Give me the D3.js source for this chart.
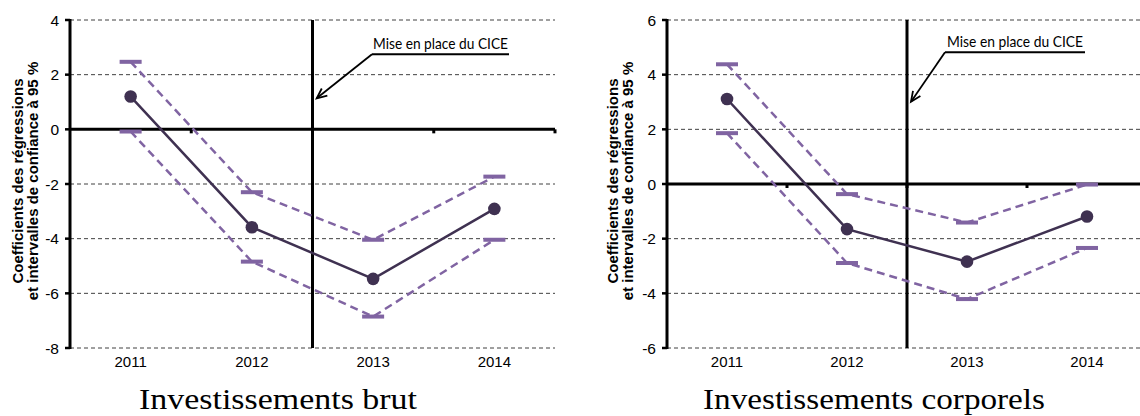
<!DOCTYPE html>
<html><head><meta charset="utf-8">
<script src="https://cdn.jsdelivr.net/npm/d3@7"></script>
<style>body{margin:0;background:#fff}svg{display:block}</style>
</head><body>
<svg id="chart" width="1140" height="416"></svg>
<script>
// ---- data ----
const years = ["2011", "2012", "2013", "2014"];
const brutCoef  = [1.20, -3.58, -5.47, -2.91];
const brutUpper = [2.47, -2.30, -4.04, -1.73];
const brutLower = [-0.08, -4.84, -6.85, -4.04];
const corpCoef  = [3.11, -1.65, -2.84, -1.19];
const corpUpper = [4.38, -0.37, -1.41, -0.02];
const corpLower = [1.86, -2.89, -4.21, -2.34];
const brutTicks = [4, 2, 0, -2, -4, -6, -8];
const corpTicks = [6, 4, 2, 0, -2, -4, -6];
const panelTitles = ["Investissements brut", "Investissements corporels"];
const yAxisTitle = ["Coefficients des régressions", "et intervalles de confiance à 95 %"];
const annotationText = "Mise en place du CICE";

// ---- layout ----
const svg = d3.select("#chart");
const panels = [
  { x0: 70, x1: 555, y0: 20, y1: 348, domain: [-8, 4], ticks: brutTicks,
    coef: brutCoef, upper: brutUpper, lower: brutLower, title: panelTitles[0],
    titleX: 278, titleLen: 278, axTitleX: 18,
    ann: { textX: 373, textY: 49, ulX0: 372, ulX1: 509, ulY: 54.3, tipX: 316.7, tipY: 98.3, len: 135 } },
  { x0: 667, x1: 1147, y0: 20, y1: 348, domain: [-6, 6], ticks: corpTicks,
    coef: corpCoef, upper: corpUpper, lower: corpLower, title: panelTitles[1],
    titleX: 874, titleLen: 342, axTitleX: 613,
    ann: { textX: 947, textY: 46.5, ulX0: 945, ulX1: 1085, ulY: 52.3, tipX: 911, tipY: 101.7, len: 136 } }
];

const coefColor = "#3f3151";
const ciColor = "#8064a2";
const sans = "'Liberation Sans', Arial, sans-serif";

panels.forEach(p => {
  const g = svg.append("g");
  const x = d3.scaleBand().domain(years).range([p.x0, p.x1]).paddingInner(0).paddingOuter(0);
  const y = d3.scaleLinear().domain(p.domain).range([p.y1, p.y0]);
  const bw = x.bandwidth();
  const cx = d => x(d) + bw / 2;

  // gridlines
  g.selectAll(".grid").data(p.ticks.filter(t => t !== 0)).join("line")
    .attr("x1", p.x0).attr("x2", p.x1)
    .attr("y1", d => y(d)).attr("y2", d => y(d))
    .attr("stroke", "#404040").attr("stroke-width", 1).attr("stroke-dasharray", "4,3");

  // y tick labels
  g.selectAll(".ylab").data(p.ticks).join("text")
    .attr("x", p.x0 - 11).attr("y", d => y(d))
    .attr("dy", "0.36em").attr("text-anchor", "end")
    .attr("font-family", sans).attr("font-size", 15.5).attr("fill", "#000")
    .text(d => d);
  // y ticks
  g.selectAll(".ytick").data(p.ticks).join("line")
    .attr("x1", p.x0 - 5).attr("x2", p.x0)
    .attr("y1", d => y(d)).attr("y2", d => y(d))
    .attr("stroke", "#000").attr("stroke-width", 2.5);

  // x axis at 0
  g.append("line").attr("x1", p.x0).attr("x2", p.x1).attr("y1", y(0)).attr("y2", y(0))
    .attr("stroke", "#000").attr("stroke-width", 3);
  // x ticks at band boundaries
  g.selectAll(".xtick").data(d3.range(1, years.length + 1)).join("line")
    .attr("x1", i => p.x0 + i * bw).attr("x2", i => p.x0 + i * bw)
    .attr("y1", y(0)).attr("y2", y(0) + 4)
    .attr("stroke", "#000").attr("stroke-width", 3);
  // y axis
  g.append("line").attr("x1", p.x0).attr("x2", p.x0).attr("y1", p.y0 - 1).attr("y2", p.y1 + 1)
    .attr("stroke", "#000").attr("stroke-width", 3);

  // x labels
  g.selectAll(".xlab").data(years).join("text")
    .attr("x", d => cx(d)).attr("y", 367)
    .attr("text-anchor", "middle")
    .attr("font-family", sans).attr("font-size", 15).attr("fill", "#000")
    .text(d => d);

  // CICE vertical line between 2012 and 2013
  const vx = x(years[2]);
  g.append("line").attr("x1", vx).attr("x2", vx).attr("y1", p.y0).attr("y2", p.y1)
    .attr("stroke", "#000").attr("stroke-width", 3);

  // CI lines
  const line = d3.line().x((d, i) => cx(years[i])).y(d => y(d));
  [p.upper, p.lower].forEach(arr => {
    g.append("path").attr("d", line(arr)).attr("fill", "none")
      .attr("stroke", ciColor).attr("stroke-width", 2.5).attr("stroke-dasharray", "8,5");
    g.selectAll(null).data(arr).join("rect")
      .attr("x", (d, i) => cx(years[i]) - 11).attr("y", d => y(d) - 2)
      .attr("width", 22).attr("height", 4).attr("fill", ciColor);
  });

  // coefficient line
  g.append("path").attr("d", line(p.coef)).attr("fill", "none")
    .attr("stroke", coefColor).attr("stroke-width", 2.5);
  g.selectAll(".pt").data(p.coef).join("circle")
    .attr("cx", (d, i) => cx(years[i])).attr("cy", d => y(d)).attr("r", 6.3)
    .attr("fill", coefColor);

  // annotation
  const a = p.ann;
  g.append("text").attr("x", a.textX).attr("y", a.textY)
    .attr("font-family", "Lato, 'Open Sans', sans-serif").attr("font-size", 15)
    .attr("textLength", a.len).attr("lengthAdjust", "spacingAndGlyphs")
    .attr("fill", "#000").text(annotationText);
  g.append("line").attr("x1", a.ulX0).attr("x2", a.ulX1).attr("y1", a.ulY).attr("y2", a.ulY)
    .attr("stroke", "#000").attr("stroke-width", 2);
  g.append("line").attr("x1", a.ulX0).attr("x2", a.tipX).attr("y1", a.ulY).attr("y2", a.tipY)
    .attr("stroke", "#000").attr("stroke-width", 1.8);
  const ang = Math.atan2(a.ulY - a.tipY, a.ulX0 - a.tipX);
  const headLen = 11, spread = 0.42;
  const hp = [ang - spread, ang + spread].map(t => [a.tipX + headLen * Math.cos(t), a.tipY + headLen * Math.sin(t)]);
  g.append("path")
    .attr("d", `M${hp[0][0]},${hp[0][1]}L${a.tipX},${a.tipY}L${hp[1][0]},${hp[1][1]}`)
    .attr("fill", "none").attr("stroke", "#000").attr("stroke-width", 1.8);

  // y axis title
  const midY = 181;
  yAxisTitle.forEach((t, i) => {
    g.append("text")
      .attr("transform", `translate(${p.axTitleX + i * 15},${midY}) rotate(-90)`)
      .attr("text-anchor", "middle").attr("dy", "0.36em")
      .attr("font-family", sans).attr("font-weight", "bold").attr("font-size", 15)
      .attr("fill", "#000").text(t);
  });

  // panel title
  g.append("text").attr("x", p.titleX).attr("y", 409)
    .attr("text-anchor", "middle")
    .attr("font-family", "'Liberation Serif', 'Times New Roman', serif").attr("font-size", 29)
    .attr("textLength", p.titleLen).attr("lengthAdjust", "spacingAndGlyphs")
    .attr("fill", "#000").text(p.title);
});
</script>
</body></html>
